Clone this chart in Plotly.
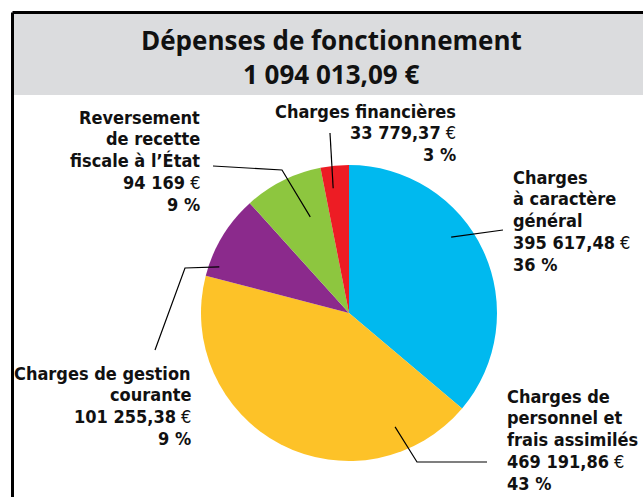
import math
import plotly.graph_objects as go

# ---- data ----
title_line1 = "Dépenses de fonctionnement"
title_line2 = "1 094 013,09 €"
categories = ["Charges à caractère général", "Charges de personnel et frais assimilés",
              "Charges de gestion courante", "Reversement de recette fiscale à l'État",
              "Charges financières"]
values = [395617.48, 469191.86, 101255.38, 94169.00, 33779.37]
value_labels = ["395 617,48", "469 191,86", "101 255,38", "94 169", "33 779,37"]
pct_labels = ["36 %", "43 %", "9 %", "9 %", "3 %"]
label_lines = [["Charges", "à caractère", "général"],
               ["Charges de", "personnel et", "frais assimilés"],
               ["Charges de gestion", "courante"],
               ["Reversement", "de recette", "fiscale à l’État"],
               ["Charges financières"]]

# ---- style ----
colors = ["#00b9ef", "#fdc228", "#8b2a8c", "#8dc63f", "#ed1c24"]
W, H = 643, 497
CX, CY, R = 349, 313, 148
FONT = "DejaVu Sans Condensed, Roboto, sans-serif"
FS = 18
LINE_H = 21.8

# leader: (position within slice 0..1, radius fraction), then path points (px), label anchor
leader_style = [
    dict(pos=0.41, rf=0.86, path=[(503, 230)], lab=(511, 177), align="left"),
    dict(pos=0.18, rf=0.83, path=[(417, 462), (487, 462)], lab=(505, 396), align="left"),
    dict(pos=0.15, rf=0.93, path=[(185, 268), (155, 350)], lab=(193, 373), align="right"),
    dict(pos=0.65, rf=0.70, path=[(282, 170), (213, 166)], lab=(202, 117), align="right"),
    dict(pos=0.35, rf=0.85, path=[(330, 133)], lab=(458, 111), align="right"),
]

def px(x):
    return x / W

def py(y):
    return 1 - y / H

fig = go.Figure()
fig.add_trace(go.Pie(
    labels=categories, values=values, sort=False, direction="clockwise", rotation=0,
    marker=dict(colors=colors, line=dict(width=0)), textinfo="none", hoverinfo="label+value+percent",
    showlegend=False,
    domain=dict(x=[px(CX - R), px(CX + R)], y=[py(CY + R), py(CY - R)]),
))

shapes = [
    dict(type="rect", xref="paper", yref="paper", x0=px(13), x1=1.01, y0=py(95), y1=py(12.5),
         fillcolor="#dbdcde", line=dict(width=0), layer="below"),
    dict(type="line", xref="paper", yref="paper", x0=px(12.5), x1=1.01, y0=py(12.5), y1=py(12.5),
         line=dict(color="black", width=3)),
    dict(type="line", xref="paper", yref="paper", x0=px(12.5), x1=px(12.5), y0=py(12.5), y1=-0.01,
         line=dict(color="black", width=3)),
]

annotations = []
for txt, yy in [(title_line1, 39.5), (title_line2, 73.5)]:
    annotations.append(dict(text="<b>" + txt + "</b>", x=px(331), y=py(yy),
                            xref="paper", yref="paper", showarrow=False, xanchor="center",
                            yanchor="middle", font=dict(family="Open Sans", size=26, color="#111")))

total = sum(values)
cum = 0.0
for i, v in enumerate(values):
    st = leader_style[i]
    frac = (cum + st["pos"] * v) / total
    cum += v
    ang = 2 * math.pi * frac
    sx = CX + st["rf"] * R * math.sin(ang)
    sy = CY - st["rf"] * R * math.cos(ang)
    pts = [(sx, sy)] + st["path"]
    path = "M " + " L ".join(f"{px(a)},{py(b)}" for a, b in pts)
    shapes.append(dict(type="path", xref="paper", yref="paper", path=path,
                       line=dict(color="black", width=1.2)))
    lines = ["<b>" + l + "</b>" for l in label_lines[i]]
    lines.append("<b>" + value_labels[i] + "</b> €")
    lines.append("<b>" + pct_labels[i] + "</b>")
    lx, ly = st["lab"]
    for k, ln in enumerate(lines):
        annotations.append(dict(text=ln, x=px(lx), y=py(ly + k * LINE_H), xref="paper", yref="paper",
                                showarrow=False, xanchor=st["align"], yanchor="middle",
                                align=st["align"],
                                font=dict(family=FONT, size=FS, color="#111")))

fig.update_layout(width=W, height=H, margin=dict(l=0, r=0, t=0, b=0),
                  paper_bgcolor="white", plot_bgcolor="white",
                  shapes=shapes, annotations=annotations)
fig.write_html("out.html", config={"displayModeBar": False},
               post_script="document.body.style.margin='0';")
